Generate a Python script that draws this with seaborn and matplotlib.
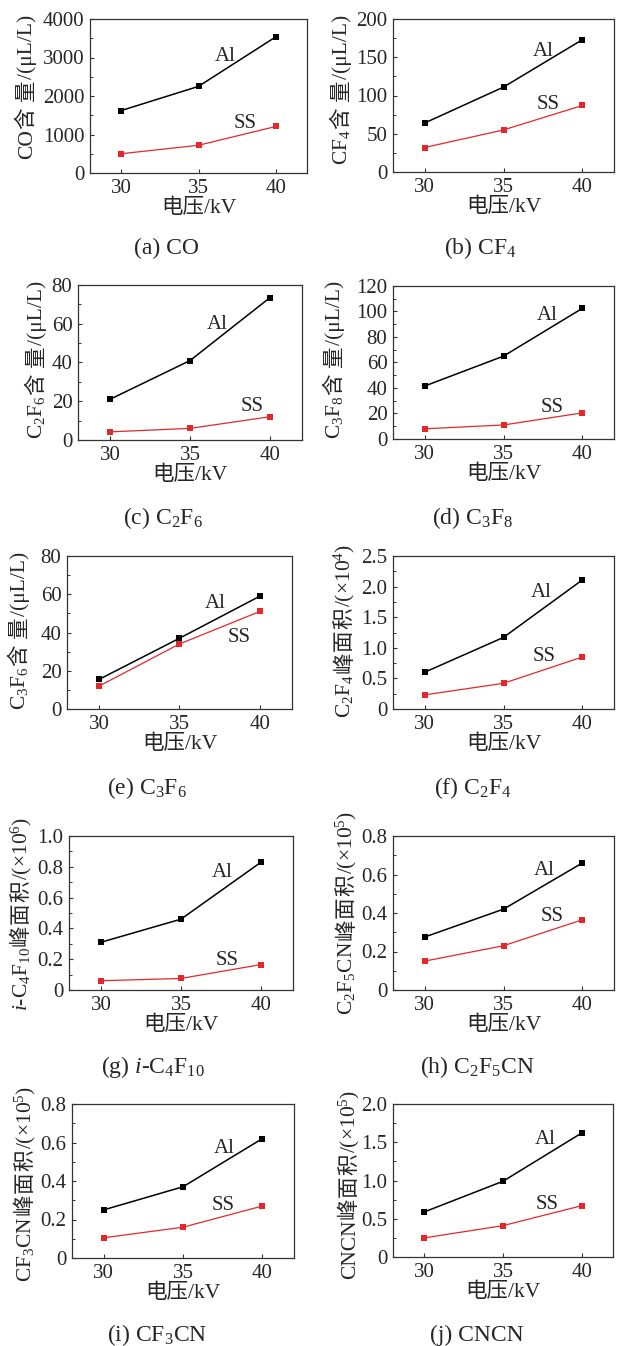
import matplotlib
matplotlib.use("Agg")
import matplotlib.pyplot as plt
import pandas as pd
import seaborn as sns
from matplotlib.ticker import MultipleLocator, AutoMinorLocator, FuncFormatter
from matplotlib.transforms import IdentityTransform

# Applied voltage (kV)
voltage = [30, 35, 40]

# Decomposition products for aluminium (Al) and stainless steel (SS) electrodes
co_al = [1620, 2250, 3540]
co_ss = [500, 720, 1210]
cf4_al = [64, 111, 173]
cf4_ss = [32, 55, 87]
c2f6_al = [21, 41, 73.5]
c2f6_ss = [4.2, 6, 12]
c3f8_al = [41.5, 65, 102.5]
c3f8_ss = [8, 11, 20.5]
c3f6_al = [15.5, 37, 59]
c3f6_ss = [12, 34, 51]
c2f4_al = [0.60, 1.17, 2.11]
c2f4_ss = [0.23, 0.42, 0.85]
ic4f10_al = [0.31, 0.46, 0.83]
ic4f10_ss = [0.06, 0.075, 0.165]
c2f5cn_al = [0.275, 0.42, 0.66]
c2f5cn_ss = [0.15, 0.23, 0.365]
cf3cn_al = [0.25, 0.37, 0.62]
cf3cn_ss = [0.105, 0.16, 0.27]
cncn_al = [0.59, 0.99, 1.62]
cncn_ss = [0.25, 0.41, 0.67]

# y-axis titles as (formula, CJK quantity, unit)
y_formula = ["CO", "CF$_4$", "C$_2$F$_6$", "C$_3$F$_8$", "C$_3$F$_6$",
             "C$_2$F$_4$", "$i$-C$_4$F$_{10}$", "C$_2$F$_5$CN", "CF$_3$CN", "CNCN"]
y_quantity = ["含量"] * 5 + ["峰面积"] * 5
y_unit = ["/(μL/L)"] * 5 + ["/(×10$^4$)", "/(×10$^6$)", "/(×10$^5$)",
                            "/(×10$^5$)", "/(×10$^5$)"]
captions = [
    "(a) CO", "(b) CF$_4$", "(c) C$_2$F$_6$", "(d) C$_3$F$_8$",
    "(e) C$_3$F$_6$", "(f) C$_2$F$_4$", "(g) $i$-C$_4$F$_{10}$",
    "(h) C$_2$F$_5$CN", "(i) CF$_3$CN", "(j) CNCN",
]
al_series = [co_al, cf4_al, c2f6_al, c3f8_al, c3f6_al,
             c2f4_al, ic4f10_al, c2f5cn_al, cf3cn_al, cncn_al]
ss_series = [co_ss, cf4_ss, c2f6_ss, c3f8_ss, c3f6_ss,
             c2f4_ss, ic4f10_ss, c2f5cn_ss, cf3cn_ss, cncn_ss]
y_max = [4000, 200, 80, 120, 80, 2.5, 1.0, 0.8, 0.8, 2.0]
y_step = [1000, 50, 20, 20, 20, 0.5, 0.2, 0.2, 0.2, 0.5]

# Layout (figure pixels): axes box (left, top, right, bottom)
W, H = 617, 1346
boxes = [
    (90, 19, 307, 173), (393, 19, 614, 172),
    (78, 285, 302, 440), (393, 286, 614, 439),
    (67, 556, 292, 709), (393, 556, 614, 709),
    (69, 836, 293, 990), (393, 836, 614, 990),
    (72, 1104, 294, 1258), (393, 1104, 613, 1257),
]
# y-title baseline x and centre y (pixels from top)
ylab_pos = [(32, 87), (347, 90), (42, 360), (340, 360), (25, 631),
            (350, 631), (27, 914), (352, 913), (31, 1184), (355, 1184)]
# series tags in data units
al_text = [(36.7, 3013), (37.5, 157), (36.7, 59.4), (37.8, 97), (37.2, 55.4),
           (37.4, 1.90), (37.6, 0.766), (37.6, 0.62), (37.6, 0.571), (37.7, 1.53)]
ss_text = [(38.0, 1273), (37.8, 87.6), (38.9, 17.5), (38.1, 25), (38.7, 37.6),
           (37.6, 0.85), (37.9, 0.19), (38.1, 0.38), (37.5, 0.275), (37.8, 0.69)]
cap_pos = [(167, 248), (480, 248), (163, 518), (473, 518), (147, 788),
           (473, 788), (153, 1067), (477, 1067), (157, 1335), (477, 1335)]

sns.set_style("ticks")
plt.rcParams["font.family"] = ["Liberation Serif", "Noto Sans CJK SC"]
plt.rcParams["mathtext.fontset"] = "custom"
plt.rcParams["mathtext.rm"] = "Liberation Serif"
plt.rcParams["mathtext.it"] = "Liberation Serif:italic"
plt.rcParams["axes.unicode_minus"] = False

RED = "#e2282a"
TICK_FS = 15
LAB_FS = 15.5
YLAB_FS = 15.5
CAP_FS = 17
TAG_FS = 15

fig = plt.figure(figsize=(W / 100, H / 100), dpi=100)
fig.patch.set_facecolor("white")
renderer = fig.canvas.get_renderer()


def fmt(v, _pos):
    if abs(v) < 1e-12:
        return "0"
    if float(v).is_integer() and v >= 10:
        return f"{int(v)}"
    return f"{v:.1f}"


def vertical_title(bx, cy, pieces, size):
    """Stack text pieces bottom-to-top along a shared vertical baseline."""
    items = []
    for txt, extra in pieces:
        t = fig.text(0, 0, txt, fontsize=size, ha="left", va="baseline",
                     rotation=0, rotation_mode="anchor",
                     transform=IdentityTransform())
        w = t.get_window_extent(renderer).width
        items.append((t, w + extra))
    total = sum(a for _, a in items) - pieces[-1][1]
    y = (H - cy) - total / 2
    for t, adv in items:
        t.set_rotation(90)
        t.set_position((bx, y))
        y += adv


for i in range(10):
    l, t, r, b = boxes[i]
    ax = fig.add_axes([l / W, 1 - b / H, (r - l) / W, (b - t) / H])
    df = pd.DataFrame({
        "voltage": voltage * 2,
        "value": list(al_series[i]) + list(ss_series[i]),
        "electrode": ["Al"] * 3 + ["SS"] * 3,
    })
    sns.lineplot(data=df[df.electrode == "Al"], x="voltage", y="value",
                 color="black", lw=1.1, marker="s", markersize=4.6,
                 markeredgewidth=0, ax=ax)
    sns.lineplot(data=df[df.electrode == "SS"], x="voltage", y="value",
                 color=RED, lw=0.9, marker="s", markersize=4.6,
                 markeredgewidth=0, ax=ax)
    ax.set_xlim(28, 42)
    ax.set_ylim(0, y_max[i])
    ax.xaxis.set_major_locator(MultipleLocator(5))
    ax.yaxis.set_major_locator(MultipleLocator(y_step[i]))
    ax.yaxis.set_minor_locator(AutoMinorLocator(2))
    ax.yaxis.set_major_formatter(FuncFormatter(fmt))
    ax.tick_params(axis="both", which="major", direction="in", length=3,
                   width=0.8, labelsize=TICK_FS, pad=4, color="#333333")
    ax.tick_params(axis="y", which="minor", direction="in", length=2,
                   width=0.7, color="#333333")
    for s in ax.spines.values():
        s.set_visible(True)
        s.set_linewidth(0.9)
        s.set_color("#333333")
    ax.set_xlabel("电压/kV", fontsize=LAB_FS, labelpad=1)
    ax.set_ylabel("")
    ax.text(*al_text[i], "Al", fontsize=TAG_FS, ha="center", va="center")
    ax.text(*ss_text[i], "SS", fontsize=TAG_FS, ha="center", va="center")

    # y title: formula, quantity characters, unit
    gap = 0.5
    pieces = [(y_formula[i], gap)]
    cjk_extra = 6.5 if y_quantity[i] == "含量" else 0.5
    for ch in y_quantity[i]:
        pieces.append((ch, cjk_extra))
    pieces[-1] = (pieces[-1][0], gap)
    pieces.append((y_unit[i], 0))
    vertical_title(*ylab_pos[i], pieces, YLAB_FS)

    cx, cy = cap_pos[i]
    fig.text(cx / W, 1 - cy / H, captions[i], fontsize=CAP_FS, ha="center",
             va="center")

fig.savefig("out.png", dpi=100, facecolor="white")
